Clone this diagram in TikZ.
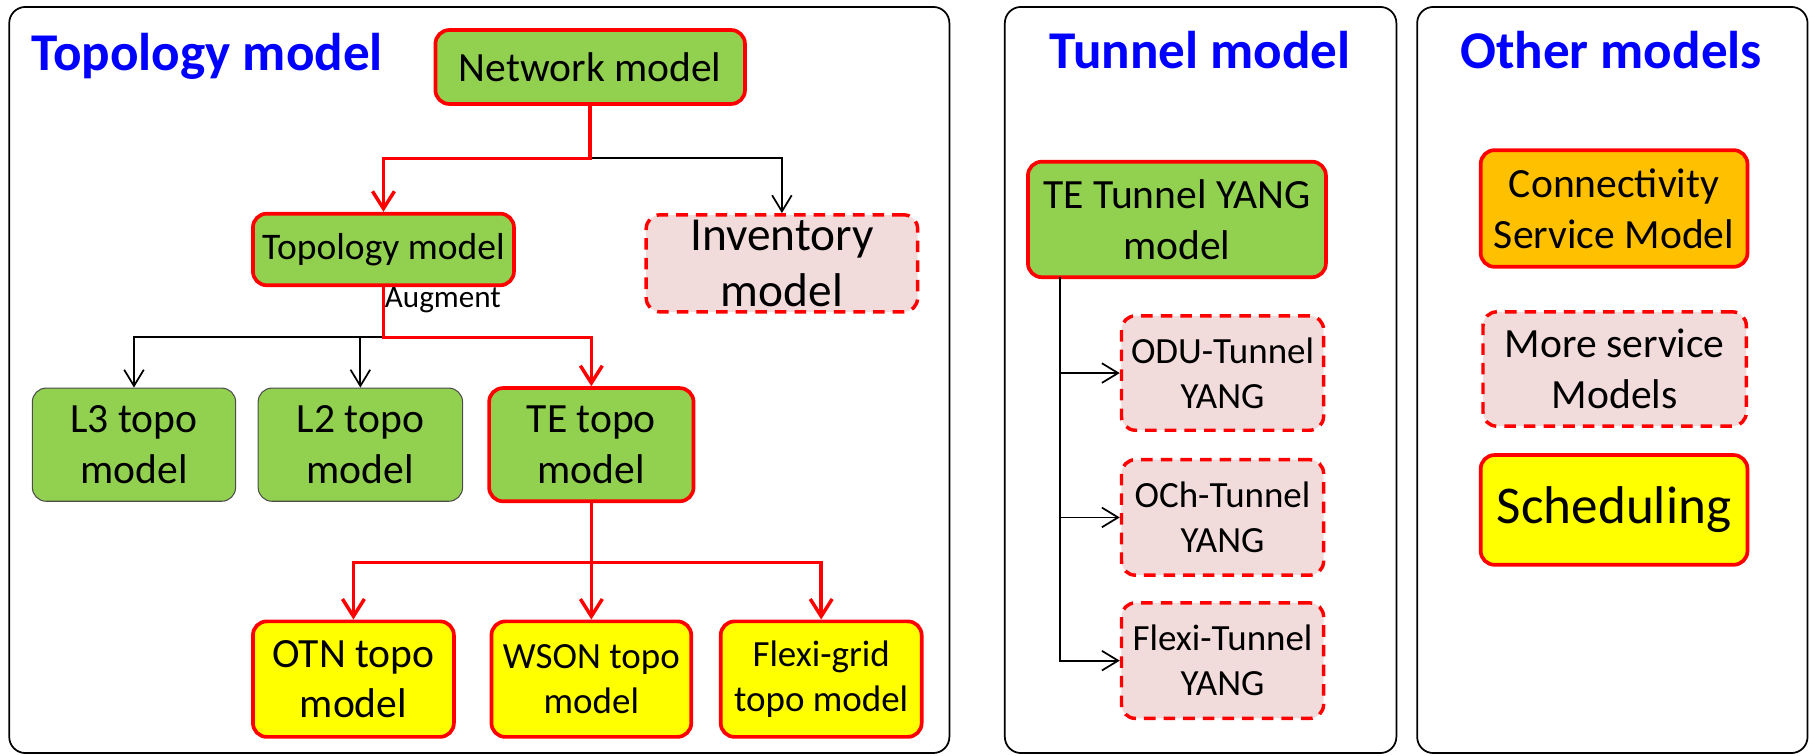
\documentclass[tikz,border=0pt]{standalone}
\usepackage{fontspec}
\setmainfont{Carlito}
\usetikzlibrary{arrows.meta}
\definecolor{cgreen}{HTML}{92D050}
\definecolor{cyellow}{HTML}{FFFF00}
\definecolor{corange}{HTML}{FFC000}
\definecolor{cpink}{HTML}{F2DCDB}
\definecolor{cred}{HTML}{FF0000}
\definecolor{cblue}{HTML}{0000FF}
\begin{document}
\begin{tikzpicture}[x=1pt,y=-1pt,
 panel/.style={draw=black, line width=1.5pt, rounded corners=14pt},
 title/.style={text=cblue, font=\fontsize{46}{52}\selectfont\bfseries, inner sep=0pt},
 box/.style={rounded corners=12pt, align=center, inner sep=0pt, text=black},
 redbox/.style={box, draw=cred, line width=3.2pt},
 dashbox/.style={box, draw=cred, line width=3pt, dash pattern=on 10pt off 7pt, fill=cpink},
 graybox/.style={box, draw=black!70, line width=0.9pt, fill=cgreen},
 fa/.style={font=\fontsize{36}{44}\selectfont},
 fb/.style={font=\fontsize{32}{39}\selectfont},
 redline/.style={draw=cred, line width=3pt, -{Straight Barb[length=15pt,width=19pt]}},
 blkline/.style={draw=black, line width=1.5pt, -{Straight Barb[length=14pt,width=17pt]}},
]
\useasboundingbox (0,0) rectangle (1568,654);
\draw[panel] (8,6) rectangle (822,652);
\draw[panel] (870,6) rectangle (1209,652);
\draw[panel] (1227,6) rectangle (1565,652);

\node[title, anchor=base west] (t1) at (27,61) {Topology model};
\node[title, anchor=base] (t2) at (1039,59) {Tunnel model};
\node[title, anchor=base] (t3) at (1395,59) {Other models};

\node[redbox, fill=cgreen, fa, minimum width=268, minimum height=64] (net) at (511,58) {Network model};
\node[redbox, fill=cgreen, font=\fontsize{32.5}{39}\selectfont, minimum width=226, minimum height=62] (topo) at (332,216) {Topology model};
\node[dashbox, font=\fontsize{41}{49}\selectfont, minimum width=235, minimum height=84] (inv) at (677,228) {Inventory\\model};
\node[graybox, fa, minimum width=176, minimum height=98] (l3) at (116,385) {L3 topo\\model};
\node[graybox, fa, minimum width=177, minimum height=98] (l2) at (312,385) {L2 topo\\model};
\node[redbox, fill=cgreen, fa, minimum width=177, minimum height=98] (te) at (512,385) {TE topo\\model};
\node[redbox, fill=cyellow, fa, minimum width=174, minimum height=100] (otn) at (306,588) {OTN topo\\model};
\node[redbox, fill=cyellow, fb, minimum width=173, minimum height=100] (wson) at (512,588) {WSON topo\\model};
\node[redbox, fill=cyellow, fb, minimum width=174, minimum height=100] (flexi) at (711,588) {Flexi-grid\\topo model};

\node[redbox, fill=cgreen, fa, minimum width=258, minimum height=100] (tetun) at (1019,190) {TE Tunnel YANG\\model};
\node[dashbox, fb, minimum width=175, minimum height=99] (odu) at (1058.5,323) {ODU-Tunnel\\YANG};
\node[dashbox, fb, minimum width=175, minimum height=100] (och) at (1058.5,448) {OCh-Tunnel\\YANG};
\node[dashbox, fb, minimum width=175, minimum height=100] (flt) at (1058.5,572) {Flexi-Tunnel\\YANG};

\node[redbox, fill=corange, fa, minimum width=231, minimum height=101] (conn) at (1397.5,180.5) {Connectivity\\Service Model};
\node[dashbox, fa, minimum width=228, minimum height=99] (more) at (1398,319.5) {More service\\Models};
\node[redbox, fill=cyellow, font=\fontsize{46}{52}\selectfont, minimum width=231, minimum height=95] (sched) at (1397.5,441.5) {Scheduling};

\node[anchor=base west, inner sep=0pt, font=\fontsize{27}{32}\selectfont] (aug) at (333,266) {Augment};

% connectors
\coordinate (j1) at (511,137);
\draw[blkline] (j1) -| (inv.north);
\draw[redline] (net.south) -- (j1) -| (topo.north);

\coordinate (j2) at (332,292);
\draw[blkline] (j2) -| (l3.north);
\draw[blkline] (l2.north |- j2) -- (l2.north);
\draw[redline] (topo.south) -- (j2) -| (te.north);

\coordinate (j3) at (512,487);
\draw[redline] (te.south) -- (j3) -| (otn.north);
\draw[redline] (j3) -| (flexi.north);
\draw[redline] (j3) -- (wson.north);

\coordinate (t0) at (918,240);
\draw[blkline] (t0) |- (flt.west);
\draw[blkline] (t0 |- odu.west) -- (odu.west);
\draw[blkline] (t0 |- och.west) -- (och.west);
\end{tikzpicture}
\end{document}
